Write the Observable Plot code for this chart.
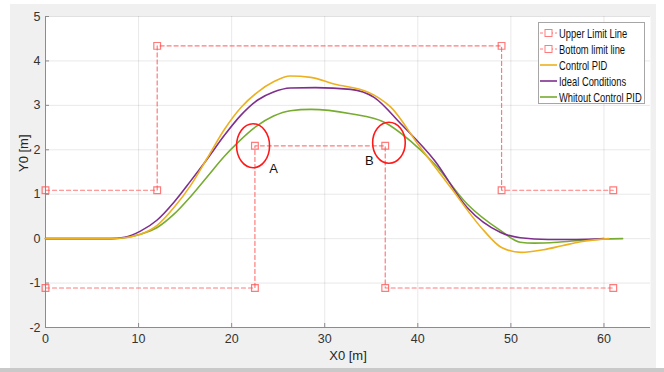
<!DOCTYPE html>
<html>
<head>
<meta charset="utf-8">
<script src="https://cdn.jsdelivr.net/npm/d3@7"></script>
<script src="https://cdn.jsdelivr.net/npm/@observablehq/plot@0.6"></script>
<style>
  html, body { margin: 0; padding: 0; background: #ffffff; }
  #wrap { position: relative; width: 664px; height: 372px; overflow: hidden; font-family: "Liberation Sans", Arial, sans-serif; }
  #fig { position: absolute; left: 10px; top: 4px; width: 646px; height: 364px; background: #f0f0f0; }
  #band { position: absolute; left: 0; top: 368px; width: 664px; height: 4px; background: #c9c9c9; }
  #chart { position: absolute; left: 0; top: 0; }
  #legend { position: absolute; left: 538px; top: 22px; width: 105px; height: 80px; background: #fff; border: 1px solid #a6a6a6; font-size: 13px; color: #111; }
  .row { position: absolute; left: 1px; height: 16px; display: flex; align-items: center; }
  .row span { display: inline-block; margin-left: 2px; white-space: nowrap; transform: scaleX(0.72); transform-origin: left center; }
</style>
</head>
<body>
<div id="wrap">
  <div id="fig"></div>
  <div id="band"></div>
  <div id="chart"></div>
  <div id="legend"></div>
</div>
<script>
// ---- data ----
const xTicks = [0, 10, 20, 30, 40, 50, 60];
const yTicks = [-2, -1, 0, 1, 2, 3, 4, 5];
const xTitle = "X0 [m]";
const yTitle = "Y0 [m]";

const upperX = [0, 12, 12, 49, 49, 61];
const upperY = [1.1, 1.1, 4.35, 4.35, 1.1, 1.1];

const bottomX = [0, 22.5, 22.5, 36.5, 36.5, 61];
const bottomY = [-1.1, -1.1, 2.1, 2.1, -1.1, -1.1];

const ctrlX = [0, 7, 8.5, 10.2, 12, 13.8, 15.6, 17.4, 19.2, 21, 22.8, 24.5, 26.3, 28.5, 31, 34.6, 35.8, 37.1, 40, 43.5, 47.1, 49, 51.1, 53.5, 55.5, 57.5, 60.5];
const ctrlY = [0, 0, 0.02, 0.1, 0.3, 0.7, 1.2, 1.82, 2.45, 2.95, 3.3, 3.53, 3.66, 3.63, 3.48, 3.3, 3.17, 2.96, 2.13, 1.16, 0.18, -0.2, -0.31, -0.25, -0.16, -0.07, 0];

const idealX = [0, 7, 8.5, 10.2, 12, 13.8, 15.6, 17.4, 19.2, 21, 22.8, 24.5, 26.3, 29, 32.8, 35.3, 38.2, 41.8, 45.3, 48.9, 51, 54, 57, 60];
const idealY = [0, 0, 0.03, 0.17, 0.42, 0.82, 1.3, 1.8, 2.32, 2.78, 3.12, 3.3, 3.39, 3.4, 3.36, 3.18, 2.58, 1.76, 0.7, 0.14, 0.02, -0.02, -0.02, 0];

const noX = [0, 7, 8.5, 10.2, 12, 13.8, 15.6, 17.4, 19.2, 20.6, 22.6, 24.5, 26.3, 28.5, 32.8, 36.4, 39.2, 41.8, 45.3, 48.9, 51, 52.5, 55, 58, 62];
const noY = [0, 0, 0.02, 0.1, 0.25, 0.55, 0.95, 1.4, 1.85, 2.15, 2.52, 2.76, 2.88, 2.91, 2.81, 2.62, 2.2, 1.68, 0.78, 0.18, -0.08, -0.1, -0.08, -0.03, 0];

const seriesNames = ["Upper Limit Line", "Bottom limit line", "Control PID", "Ideal Conditions", "Whitout Control PID"];

const markNames = ["A", "B"];
const markX = [24.5, 34.8];
const markY = [1.58, 1.76];
const circleX = [22.3, 36.9];
const circleY = [2.09, 2.16];

// ---- styles ----
const limitColor = "#ff4d4d";
const colors = ["#edb120", "#7e2f8e", "#77ac30"];

const toPts = (xs, ys) => xs.map((x, i) => ({x, y: ys[i]}));
const upper = toPts(upperX, upperY);
const bottom = toPts(bottomX, bottomY);
const ctrl = toPts(ctrlX, ctrlY);
const ideal = toPts(idealX, idealY);
const noPid = toPts(noX, noY);
const labels = markNames.map((t, i) => ({t, x: markX[i], y: markY[i]}));
const circles = markNames.map((t, i) => ({t, x: circleX[i], y: circleY[i]}));

function ellipse(rx, ry) {
  const k = 0.5522848;
  return {draw(ctx) {
    ctx.moveTo(rx, 0);
    ctx.bezierCurveTo(rx, ry * k, rx * k, ry, 0, ry);
    ctx.bezierCurveTo(-rx * k, ry, -rx, ry * k, -rx, 0);
    ctx.bezierCurveTo(-rx, -ry * k, -rx * k, -ry, 0, -ry);
    ctx.bezierCurveTo(rx * k, -ry, rx, -ry * k, rx, 0);
    ctx.closePath();
  }};
}

const axisGray = "#8c8c8c";
const fmt = d => String(d);
const limStyle = {x: "x", y: "y", stroke: limitColor, strokeOpacity: 0.75, strokeWidth: 1.2, strokeDasharray: "4,3", dy: 0.5};
const sqStyle = {x: "x", y: "y", symbol: "square", r: 3.8, stroke: limitColor, strokeOpacity: 0.75, fill: "none", strokeWidth: 1.2, dy: 0.5};

const chart = Plot.plot({
  width: 664,
  height: 372,
  marginLeft: 45,
  marginRight: 14,
  marginTop: 16,
  marginBottom: 45,
  style: {background: "transparent", fontFamily: '"Liberation Sans", Arial, sans-serif', fontSize: "12.5px", color: "#333"},
  x: {domain: [0, 65]},
  y: {domain: [-2, 5]},
  marks: [
    Plot.frame({fill: "white", stroke: "none"}),
    Plot.gridX(xTicks, {stroke: "#000", strokeOpacity: 0.09}),
    Plot.gridY(yTicks, {stroke: "#000", strokeOpacity: 0.09}),
    Plot.ruleX([0], {stroke: axisGray}),
    Plot.ruleY([-2], {stroke: axisGray}),
    Plot.axisX(xTicks, {tickSize: -4, stroke: axisGray, tickFormat: () => "", label: null}),
    Plot.axisY(yTicks, {tickSize: -4, stroke: axisGray, tickFormat: () => "", label: null}),
    Plot.axisX(xTicks, {tickSize: 0, tickPadding: 7, tickFormat: fmt, label: null}),
    Plot.axisY(yTicks, {tickSize: 0, tickPadding: 5, tickFormat: fmt, label: null}),
    Plot.text([xTitle], {frameAnchor: "bottom", dy: 32, text: d => d, fontSize: 13, fill: "#262626"}),
    Plot.text([yTitle], {frameAnchor: "left", dx: -22, rotate: -90, text: d => d, fontSize: 13, fill: "#262626"}),
    Plot.line(upper, limStyle),
    Plot.dot(upper, sqStyle),
    Plot.line(bottom, limStyle),
    Plot.dot(bottom, sqStyle),
    Plot.line(noPid, {x: "x", y: "y", stroke: colors[2], strokeWidth: 1.6, curve: "monotone-x"}),
    Plot.line(ideal, {x: "x", y: "y", stroke: colors[1], strokeWidth: 1.6, curve: "monotone-x"}),
    Plot.line(ctrl, {x: "x", y: "y", stroke: colors[0], strokeWidth: 1.6, curve: "monotone-x"}),
    Plot.dot([circles[0]], {x: "x", y: "y", symbol: ellipse(16.5, 22), r: 1, stroke: "#ff1a1a", fill: "none", strokeWidth: 1.6}),
    Plot.dot([circles[1]], {x: "x", y: "y", symbol: ellipse(16.3, 20.5), r: 1, stroke: "#ff1a1a", fill: "none", strokeWidth: 1.6}),
    Plot.text(labels, {x: "x", y: "y", text: "t", fill: "#111", fontSize: 13})
  ]
});
document.getElementById("chart").appendChild(chart);

// ---- legend ----
const legend = document.getElementById("legend");
seriesNames.forEach((name, i) => {
  const row = document.createElement("div");
  row.className = "row";
  row.style.top = (2 + i * 16) + "px";
  let sample;
  if (i < 2) {
    sample = `<svg width="17" height="10"><line x1="0" y1="5" x2="17" y2="5" stroke="${limitColor}" stroke-opacity="0.75" stroke-dasharray="3,2"/><rect x="5" y="1.5" width="7" height="7" fill="white" stroke="${limitColor}" stroke-opacity="0.75"/></svg>`;
  } else {
    sample = `<svg width="17" height="10"><line x1="0" y1="5" x2="17" y2="5" stroke="${colors[i - 2]}" stroke-width="1.6"/></svg>`;
  }
  row.innerHTML = sample + `<span>${name}</span>`;
  legend.appendChild(row);
});
</script>
</body>
</html>
